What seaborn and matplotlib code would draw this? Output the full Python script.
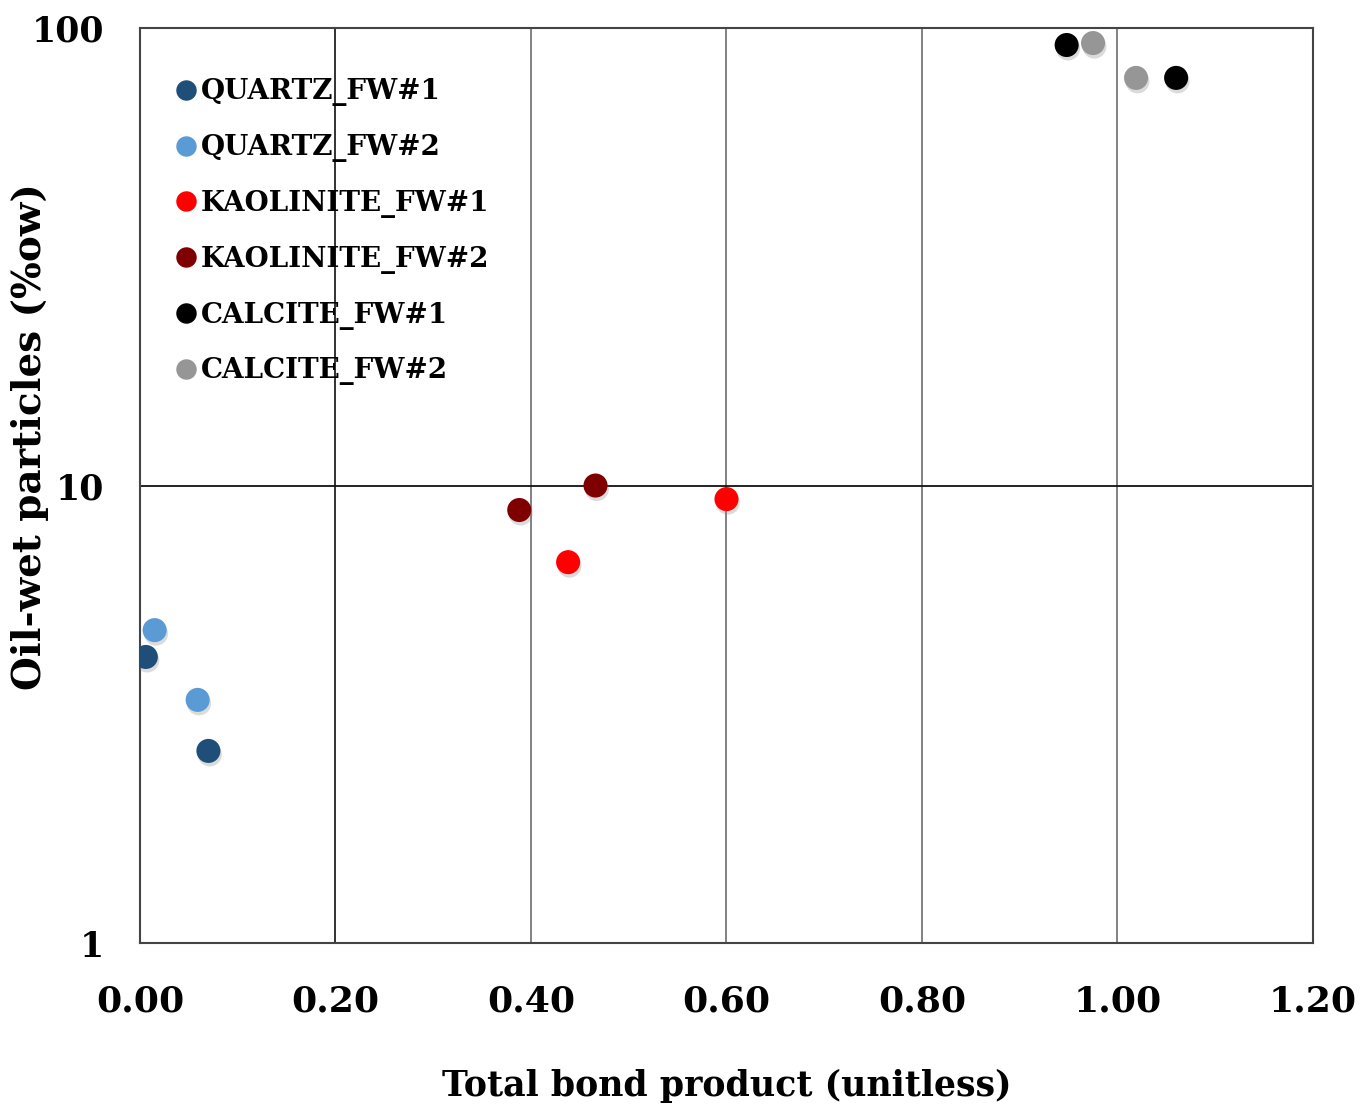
import matplotlib
matplotlib.use("Agg")
import matplotlib.pyplot as plt
import matplotlib.patheffects as pe
import seaborn as sns
import pandas as pd

# Measured points per sample series
series = ["QUARTZ_FW#1", "QUARTZ_FW#2", "KAOLINITE_FW#1",
          "KAOLINITE_FW#2", "CALCITE_FW#1", "CALCITE_FW#2"]
quartz_fw1_x = [0.006, 0.070]
quartz_fw1_y = [4.22, 2.63]
quartz_fw2_x = [0.015, 0.059]
quartz_fw2_y = [4.83, 3.40]
kaolinite_fw1_x = [0.438, 0.600]
kaolinite_fw1_y = [6.80, 9.34]
kaolinite_fw2_x = [0.388, 0.466]
kaolinite_fw2_y = [8.84, 10.0]
calcite_fw1_x = [0.948, 1.060]
calcite_fw1_y = [91.8, 77.8]
calcite_fw2_x = [0.975, 1.019]
calcite_fw2_y = [92.7, 77.8]

x_ticks = [0.0, 0.2, 0.4, 0.6, 0.8, 1.0, 1.2]
y_ticks = [1, 10, 100]

colors = ["#1f4e79", "#5b9bd5", "#ff0000", "#7f0000", "#000000", "#969696"]

xs = [quartz_fw1_x, quartz_fw2_x, kaolinite_fw1_x, kaolinite_fw2_x,
      calcite_fw1_x, calcite_fw2_x]
ys = [quartz_fw1_y, quartz_fw2_y, kaolinite_fw1_y, kaolinite_fw2_y,
      calcite_fw1_y, calcite_fw2_y]
rows = []
for name, xv, yv in zip(series, xs, ys):
    for a, b in zip(xv, yv):
        rows.append({"series": name, "tbp": a, "oilwet": b})
df = pd.DataFrame(rows)

sns.set_theme(style="white")
plt.rcParams["font.family"] = ["DejaVu Serif"]
plt.rcParams["font.weight"] = "bold"
plt.rcParams["text.color"] = "black"
plt.rcParams["axes.labelcolor"] = "black"
plt.rcParams["xtick.color"] = "black"
plt.rcParams["ytick.color"] = "black"

fig = plt.figure(figsize=(13.63, 11.07), dpi=100)
ax = fig.add_axes([0.1027, 0.1481, 0.8606, 0.8266])

sns.scatterplot(data=df, x="tbp", y="oilwet", hue="series",
                hue_order=series, palette=colors, s=300, linewidth=0,
                ax=ax, zorder=3)
for coll in ax.collections:
    coll.set_path_effects([pe.SimplePatchShadow(offset=(1.0, -2.5),
                                                shadow_rgbFace="#888888",
                                                alpha=0.3),
                           pe.Normal()])

ax.set_yscale("log")
ax.set_xlim(0, 1.2)
ax.set_ylim(1, 100)
ax.set_xticks(x_ticks)
ax.set_xticklabels([f"{v:.2f}" for v in x_ticks], fontsize=26, fontweight="bold")
ax.set_yticks(y_ticks)
ax.set_yticklabels([str(v) for v in y_ticks], fontsize=25, fontweight="bold")
ax.minorticks_off()
ax.tick_params(axis="both", length=0, colors="black")
ax.tick_params(axis="x", pad=30)
ax.tick_params(axis="y", pad=26)

# Grid: vertical at each x tick, one horizontal line at 10
for xv in x_ticks[1:-1]:
    c = "#222222" if xv == 0.2 else "#777777"
    ax.axvline(xv, color=c, lw=1.3, zorder=1)
ax.axhline(10, color="#111111", lw=1.3, zorder=1)

for sp in ax.spines.values():
    sp.set_color("#444444")
    sp.set_linewidth(1.5)

ax.set_xlabel("Total bond product (unitless)", fontsize=25, fontweight="bold",
              labelpad=36, color="black")
ax.set_ylabel("")
fig.text(30 / 1363, 1 - 437 / 1107, "Oil-wet particles (%ow)", rotation=90,
         ha="center", va="center", fontsize=28, fontweight="bold",
         color="black")

leg = ax.legend(loc="upper left", bbox_to_anchor=(0.018, 0.957), frameon=False,
                handletextpad=0.02, labelspacing=1.0, handlelength=1.0,
                borderaxespad=0, prop={"size": 20, "weight": "bold"},
                markerscale=0.85)
for t in leg.get_texts():
    t.set_color("black")

fig.savefig("out.png", dpi=100, facecolor="white")
